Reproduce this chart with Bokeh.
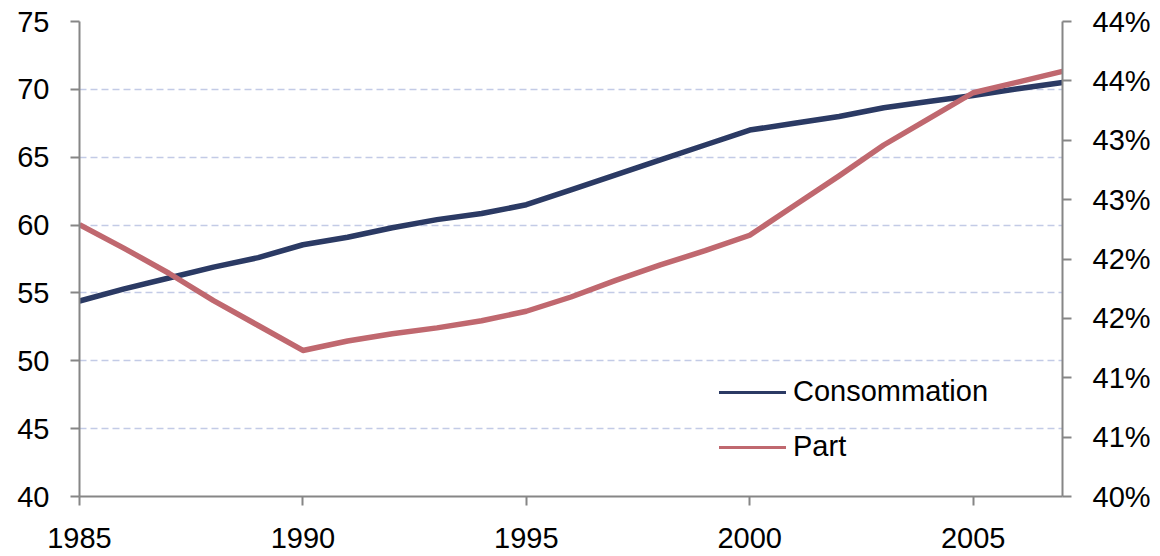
from bokeh.plotting import figure
from bokeh.models import Range1d, LinearAxis, FixedTicker, Legend, LegendItem
from bokeh.embed import file_html
from bokeh.resources import INLINE

years = list(range(1985, 2008))
consommation = [54.4, 55.3, 56.1, 56.9, 57.6, 58.55, 59.1, 59.8, 60.4, 60.85, 61.5,
                62.6, 63.7, 64.8, 65.9, 67.0, 67.5, 68.0, 68.65, 69.1, 69.55, 70.05, 70.5]
part = [42.29, 42.09, 41.88, 41.65, 41.44, 41.23, 41.31, 41.37, 41.42, 41.48, 41.56,
        41.68, 41.82, 41.95, 42.07, 42.20, 42.45, 42.70, 42.96, 43.18, 43.40, 43.49, 43.58]

x_ticks = [1985, 1990, 1995, 2000, 2005]
left_ticks = [40, 45, 50, 55, 60, 65, 70, 75]
right_ticks = [40, 40.5, 41, 41.5, 42, 42.5, 43, 43.5, 44]
right_tick_labels = ["40%", "41%", "41%", "42%", "42%", "43%", "43%", "44%", "44%"]

NAVY = "#2b3a64"
RED = "#c0686f"
AXIS = "#868686"
GRID = "#c3cbe6"
FONT = "Liberation Sans"
FS = "29px"

p = figure(width=1160, height=556, output_backend="svg", toolbar_location=None,
           x_range=Range1d(1985, 2007), y_range=Range1d(40, 75),
           min_border_left=79, min_border_right=98, min_border_top=21, min_border_bottom=60)
p.extra_y_ranges = {"pct": Range1d(40, 44)}
p.outline_line_color = None
p.background_fill_color = "white"

p.xgrid.grid_line_color = None
p.ygrid.grid_line_color = GRID
p.ygrid.grid_line_width = 1.6
p.ygrid.grid_line_dash = "7 4"
p.ygrid.ticker = FixedTicker(ticks=left_ticks)

def style(ax):
    ax.axis_line_color = AXIS
    ax.axis_line_width = 2
    ax.major_tick_line_color = AXIS
    ax.major_tick_line_width = 2
    ax.major_tick_in = 0
    ax.major_tick_out = 9
    ax.minor_tick_line_color = None
    ax.major_label_text_font = FONT
    ax.major_label_text_font_size = FS
    ax.major_label_text_color = "black"

xa = p.xaxis[0]
xa.ticker = FixedTicker(ticks=x_ticks)
style(xa)
xa.major_label_standoff = 22

ya = p.yaxis[0]
ya.ticker = FixedTicker(ticks=left_ticks)
style(ya)
ya.major_label_standoff = 21

ra = LinearAxis(y_range_name="pct", ticker=FixedTicker(ticks=right_ticks))
style(ra)
ra.major_label_standoff = 21
ra.major_label_overrides = {t: l for t, l in zip(right_ticks, right_tick_labels)}
p.add_layout(ra, "right")

p.line(years, consommation, line_color=NAVY, line_width=5.5, line_join="round")
p.line(years, part, line_color=RED, line_width=5.5, line_join="round", y_range_name="pct")

nan = float("nan")
lg1 = p.line([years[0], years[1]], [nan, nan], line_color=NAVY, line_width=3, line_cap="round")
lg2 = p.line([years[0], years[1]], [nan, nan], line_color=RED, line_width=3, line_cap="round")

legend = Legend(items=[LegendItem(label="Consommation", renderers=[lg1]),
                       LegendItem(label="Part", renderers=[lg2])],
                location=(640, 33), orientation="vertical",
                glyph_width=67, glyph_height=30, label_height=30,
                label_standoff=7, spacing=22, padding=0, margin=0,
                border_line_color=None, background_fill_alpha=0,
                label_text_font=FONT, label_text_font_size=FS, label_text_color="black")
p.add_layout(legend, "center")

open("out.html", "w").write(file_html(p, INLINE))
